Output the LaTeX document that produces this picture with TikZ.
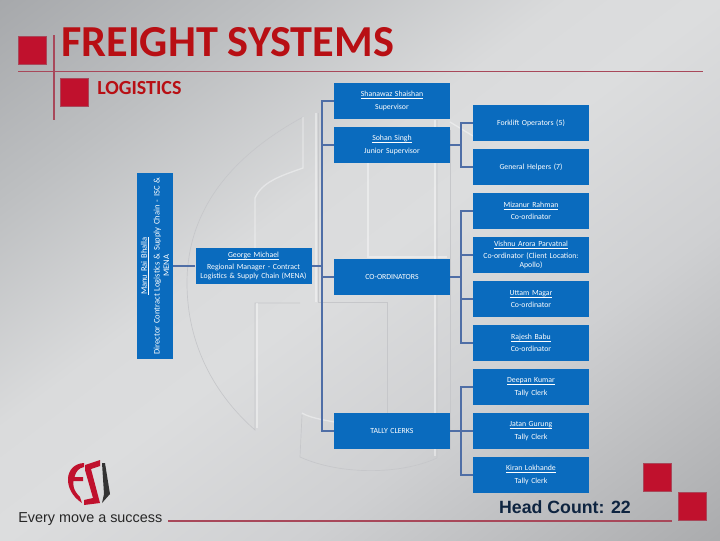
\documentclass[tikz,border=0pt]{standalone}
\usepackage{fontspec}
\setmainfont{Carlito}
\newfontfamily\headfont{Liberation Sans}
\usetikzlibrary{calc}
\definecolor{boxblue}{HTML}{0A6BBE}
\definecolor{linkblue}{HTML}{4F6EA6}
\definecolor{titlered}{HTML}{B80F14}
\definecolor{squarered}{HTML}{C0112D}
\definecolor{rulered}{HTML}{A8485A}
\definecolor{headnavy}{HTML}{0E2440}
\definecolor{wm}{HTML}{C6C7CA}
\definecolor{bga}{HTML}{A8A9AB}
\definecolor{bgb}{HTML}{CFD0D2}
\definecolor{bgc}{HTML}{DCDDDE}
\definecolor{bgd}{HTML}{DADBDC}
\definecolor{bge}{HTML}{BDBFC1}
\definecolor{bgf}{HTML}{A4A6A9}
\pgfdeclareverticalshading{bgdiag}{100bp}{color(0bp)=(bga); color(25bp)=(bga); color(40bp)=(bgb); color(50bp)=(bgc); color(55bp)=(bgd); color(65bp)=(bge); color(75bp)=(bgf); color(100bp)=(bgf)}
\tikzset{
  x=0.75pt,y=-0.75pt,
  orgbox/.style={draw=none,fill=boxblue,text=white,align=center,font=\fontsize{5.85}{6.9}\selectfont,inner sep=1pt},
  smallbox/.style={orgbox,minimum width=87pt,minimum height=27pt,text width=85pt},
  link/.style={draw=linkblue,line width=2pt},
  redsq/.style={fill=squarered,draw=rulered,line width=0.4pt},
  rulel/.style={draw=rulered,line width=0.9pt},
  wmline/.style={draw=wm,line width=0.5pt},
  wmglow/.style={draw=white,line width=1pt,opacity=0.4},
}
\newcommand{\nm}[1]{\underline{\raisebox{0pt}[\height][0pt]{#1}}\\[2.4pt]}
\begin{document}
\begin{tikzpicture}
\useasboundingbox (0,0) rectangle (720,540);
% background
\begin{scope}
\clip (0,0) rectangle (720,540);
\shade[shading=bgdiag,shading angle=37] (-90,-180) rectangle (810,720);
\end{scope}
% watermark
\draw[wmline] (303,117) .. controls (215,165) and (187,225) .. (187,283) .. controls (187,345) and (215,395) .. (255,430) -- (255,303) -- (300,303);
\draw[wmglow] (303,117) -- (303,168) .. controls (280,176) and (262,182) .. (255,198) -- (255,250);
\draw[wmglow] (257,303) -- (257,428);
\draw[wmline] (318,113) -- (318,302) -- (387,302) -- (387,413);
\draw[wmglow] (316,113) -- (316,302);
\draw[wmglow] (368,163) -- (368,257) -- (447,257);
\draw[wmline] (302,415) -- (300,457) .. controls (340,475) and (400,475) .. (437,458) -- (437,120);
\draw[wmglow] (302,413) .. controls (310,418) and (325,420) .. (334,422);
\draw[wmglow] (435,120) -- (435,456);
\draw[wmline] (450,130) -- (450,450);
\draw[wmglow] (450,122) -- (473,136);
% rules
\draw[rulel] (18,71.5) -- (703,71.5);
\draw[rulel] (54,35) -- (54,120);
\draw[rulel] (168,521) -- (672,521);
% squares
\fill[redsq] (18,36) rectangle (46.5,64);
\fill[redsq] (60,78) rectangle (88.5,106);
\fill[redsq] (643,463) rectangle (671.5,491.5);
\fill[redsq] (678,492) rectangle (706.5,520.5);
% titles
\node[anchor=west,inner sep=0pt,text=titlered,font=\bfseries\fontsize{33.2}{33}\selectfont] (title) at (61,42) {FREIGHT SYSTEMS};
\node[anchor=west,inner sep=0pt,text=titlered,font=\bfseries\fontsize{15}{15}\selectfont] (sub) at (97,88.5) {LOGISTICS};
% connectors' junctions
\coordinate (busa) at (322,266);
\coordinate (busb) at (461,145);
\coordinate (busc) at (461,277);
\coordinate (busd) at (461,431);
% boxes
\node[smallbox] (shan) at (392,101) {\nm{Shanawaz Shaishan}Supervisor};
\node[smallbox] (sohan) at (392,145) {\nm{Sohan Singh}Junior Supervisor};
\node[smallbox] (coord) at (392,277) {CO-ORDINATORS};
\node[smallbox] (tally) at (392,431) {TALLY CLERKS};
\node[smallbox] (fork) at (531,123) {Forklift Operators (5)};
\node[smallbox] (gen) at (531,167) {General Helpers (7)};
\node[smallbox] (miz) at (531,211) {\nm{Mizanur Rahman}Co-ordinator};
\node[smallbox] (vish) at (531,255) {\nm{Vishnu Arora Parvatnal}Co-ordinator (Client Location:\\Apollo)};
\node[smallbox] (utt) at (531,299) {\nm{Uttam Magar}Co-ordinator};
\node[smallbox] (raj) at (531,343) {\nm{Rajesh Babu}Co-ordinator};
\node[smallbox] (deep) at (531,387) {\nm{Deepan Kumar}Tally Clerk};
\node[smallbox] (jat) at (531,431) {\nm{Jatan Gurung}Tally Clerk};
\node[smallbox] (kir) at (531,475) {\nm{Kiran Lokhande}Tally Clerk};
\node[smallbox] (geo) at (253.5,266) {\nm{George Michael}Regional Manager - Contract\\Logistics \& Supply Chain (MENA)};
\node[orgbox,rotate=90,minimum width=139.5pt,minimum height=27pt,text width=137pt,font=\fontsize{6.4}{7.2}\selectfont] (manu) at (155,266) {\nm{Manu Rai Bhalla}Director Contract Logistics \& Supply Chain - ISC \&\\MENA};
% connectors
\draw[link] (manu.south) -- (geo.west);
\draw[link] (geo.east) -- (busa);
\draw[link] (shan.west) -| (busa);
\draw[link] (sohan.west) -| (busa);
\draw[link] (coord.west) -| (busa);
\draw[link] (tally.west) -| (busa);
\draw[link] (sohan.east) -- (busb);
\draw[link] (fork.west) -| (busb);
\draw[link] (gen.west) -| (busb);
\draw[link] (coord.east) -- (busc);
\draw[link] (miz.west) -| (busc);
\draw[link] (vish.west) -| (busc);
\draw[link] (utt.west) -| (busc);
\draw[link] (raj.west) -| (busc);
\draw[link] (tally.east) -- (busd);
\draw[link] (deep.west) -| (busd);
\draw[link] (jat.west) -- (busd);
\draw[link] (kir.west) -| (busd);
% head count
\node[anchor=center,inner sep=0pt,text=headnavy,font=\headfont\bfseries\fontsize{13.3}{14}\selectfont] (hc) at (565,507) {Head Count: 22};
% logo
\fill[squarered] (84,463) .. controls (64,464) and (62,490) .. (82,503) -- (80,497) .. controls (73,490) and (73,485) .. (73.5,481) -- (83,481) -- (83,477) -- (74.5,477) .. controls (76,471) and (79,468) .. (84,467) -- cycle;
\fill[squarered] (85,465) -- (100,460) -- (100,466) -- (91,469) -- (100,503) -- (84,505) -- (84,500) -- (93,498) -- (85,470) -- cycle;
\fill[black!80] (102,463) -- (105,463) -- (110,494) -- (102,503) -- (104,494) -- cycle;
\node[anchor=west,inner sep=0pt,text=black!85,font=\headfont\fontsize{10.8}{11}\selectfont] (slogan) at (18,519) {Every move a success};
\end{tikzpicture}
\end{document}
